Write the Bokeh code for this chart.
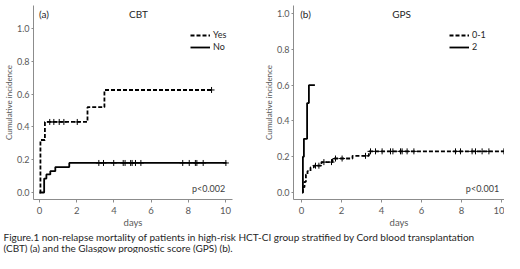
import numpy as np
from bokeh.plotting import figure
from bokeh.models import Label, Legend, LegendItem, FixedTicker, PrintfTickFormatter, Range1d
from bokeh.layouts import column, row
from bokeh.embed import file_html
from bokeh.resources import INLINE

# ---------------- data ----------------
x_ticks = [0, 2, 4, 6, 8, 10]
y_ticks = [0.0, 0.2, 0.4, 0.6, 0.8, 1.0]

# (a) CBT
cbt_yes_t = [0.0, 0.05, 0.29, 2.58, 3.49, 9.25]
cbt_yes_ci = [0.0, 0.32, 0.43, 0.52, 0.625, 0.625]
cbt_yes_cens = [0.55, 0.77, 1.06, 1.31, 2.03, 9.25]

cbt_no_t = [0.0, 0.25, 0.37, 0.58, 0.85, 1.60, 10.05]
cbt_no_ci = [0.0, 0.085, 0.11, 0.13, 0.155, 0.18, 0.18]
cbt_no_cens = [3.19, 3.44, 3.99, 4.50, 4.60, 4.90, 4.98, 5.16, 5.45,
               7.70, 8.05, 8.38, 8.46, 8.80, 10.02]

# (b) GPS
gps01_t = [0.03, 0.07, 0.15, 0.22, 0.30, 0.45, 0.62, 1.00, 1.55, 2.55, 3.37, 10.12]
gps01_ci = [0.0, 0.03, 0.06, 0.10, 0.12, 0.14, 0.15, 0.17, 0.19, 0.205, 0.23, 0.23]
gps01_cens = [0.70, 0.87, 1.12, 1.50, 1.70, 2.03, 3.20, 3.45, 3.70, 4.03, 4.45,
              4.57, 4.95, 5.03, 5.28, 5.62, 7.70, 7.95, 8.53, 8.70, 9.03, 9.37, 10.12]

gps2_t = [0.05, 0.07, 0.12, 0.28, 0.37, 0.67]
gps2_ci = [0.0, 0.20, 0.30, 0.50, 0.60, 0.60]

caption_lines = [
    "Figure.1 non-relapse mortality of patients in high-risk  HCT-CI group stratified by Cord blood transplantation",
    "(CBT) (a) and the Glasgow prognostic score (GPS) (b).",
]

FONT = "Lato"
AXIS_COL = "#8c8c8c"
TICK_COL = "#595959"
TXT_COL = "#262626"


def step_at(times, vals, t):
    idx = np.searchsorted(np.asarray(times), np.asarray(t), side="right") - 1
    idx = np.clip(idx, 0, len(vals) - 1)
    return list(np.asarray(vals)[idx])


def make_fig(xr, yr, width, bl, br, height=231, bt=5, bb=32):
    p = figure(width=width, height=height, x_range=Range1d(*xr), y_range=Range1d(*yr),
               output_backend="svg", toolbar_location=None,
               min_border_left=bl, min_border_right=br, min_border_top=bt, min_border_bottom=bb)
    p.grid.visible = False
    p.outline_line_color = None
    p.background_fill_color = None
    p.border_fill_color = None
    for ax in (p.xaxis[0], p.yaxis[0]):
        ax.axis_line_color = AXIS_COL
        ax.major_tick_line_color = AXIS_COL
        ax.minor_tick_line_color = None
        ax.major_tick_in = 0
        ax.major_label_text_font = FONT
        ax.major_label_text_font_size = "9.5px"
        ax.major_label_text_color = TICK_COL
        ax.axis_label_text_font = FONT
        ax.axis_label_text_font_style = "normal"
        ax.axis_label_text_color = TICK_COL
    p.xaxis.ticker = FixedTicker(ticks=x_ticks)
    p.yaxis.ticker = FixedTicker(ticks=y_ticks)
    p.yaxis.formatter = PrintfTickFormatter(format="%.1f")
    p.xaxis.major_tick_out = 3
    p.yaxis.major_tick_out = 2
    p.xaxis.major_label_standoff = 4
    p.yaxis.major_label_standoff = 2
    p.yaxis.major_label_text_font_size = "9px"
    p.xaxis.axis_label = "days"
    p.xaxis.axis_label_text_font_size = "9.5px"
    p.xaxis.axis_label_standoff = 0
    p.yaxis.axis_label = "Cumulative incidence"
    p.yaxis.axis_label_text_font_size = "8px"
    p.yaxis.axis_label_standoff = 0
    return p


def add_text(p, x, y, text, size="9px", align="center", color=TXT_COL):
    p.add_layout(Label(x=x, y=y, text=text, text_font=FONT, text_font_size=size,
                       text_align=align, text_baseline="middle", text_color=color))


def km(p, t, ci, cens, dash):
    r = p.step(t, ci, mode="after", line_color="black", line_width=1.8, line_dash=dash)
    if cens:
        p.scatter(cens, step_at(t, ci, cens), marker="cross", size=6,
                  line_color="black", line_width=1)
    return r


# ---------------- panel (a) ----------------
pa = make_fig((-0.323, 10.376), (-0.0427, 1.140), 260, 33, 28)
ra_yes = km(pa, cbt_yes_t, cbt_yes_ci, cbt_yes_cens, "4 2")
ra_no = km(pa, cbt_no_t, cbt_no_ci, cbt_no_cens, "solid")
leg_a = Legend(items=[LegendItem(label="Yes", renderers=[ra_yes]),
                      LegendItem(label="No", renderers=[ra_no])],
               location=(157, 147))
pa.add_layout(leg_a)
add_text(pa, 0.24, 1.091, "(a)", size="10px")
add_text(pa, 5.32, 1.091, "CBT", size="10px")
add_text(pa, 9.09, 0.024, "p<0.002", size="9px", color="#404040")

# ---------------- panel (b) ----------------
pb = make_fig((-0.4, 10.15), (-0.039, 1.045), 244, 33, 0)
rb_01 = km(pb, gps01_t, gps01_ci, gps01_cens, "4 2")
rb_2 = km(pb, gps2_t, gps2_ci, [], "solid")
leg_b = Legend(items=[LegendItem(label="0-1", renderers=[rb_01]),
                      LegendItem(label="2", renderers=[rb_2])],
               location=(156, 147))
pb.add_layout(leg_b)
add_text(pb, 0.2, 1.0, "(b)", size="10px")
add_text(pb, 5.0, 1.0, "GPS", size="10px")
add_text(pb, 9.05, 0.022, "p<0.001", size="9px", color="#404040")

for leg in (leg_a, leg_b):
    leg.padding = 0
    leg.margin = 0
    leg.spacing = 1
    leg.glyph_width = 20
    leg.glyph_height = 10
    leg.label_height = 10
    leg.label_standoff = 3
    leg.border_line_color = None
    leg.background_fill_alpha = 0
    leg.label_text_font = FONT
    leg.label_text_font_size = "9px"
    leg.label_text_color = TXT_COL

# ---------------- caption ----------------
pc = figure(width=504, height=22, x_range=Range1d(0, 504), y_range=Range1d(0, 22),
            output_backend="svg", toolbar_location=None,
            x_axis_location=None, y_axis_location=None,
            min_border=0)
pc.grid.visible = False
pc.outline_line_color = None
for i, line in enumerate(caption_lines):
    pc.add_layout(Label(x=3, y=16.5 - 10.5 * i, text=line, text_font=FONT,
                        text_font_size="10px", text_align="left", text_baseline="middle",
                        text_color=TXT_COL))

layout = column(row(pa, pb, spacing=0), pc, spacing=0)
open("out.html", "w").write(file_html(layout, INLINE))
